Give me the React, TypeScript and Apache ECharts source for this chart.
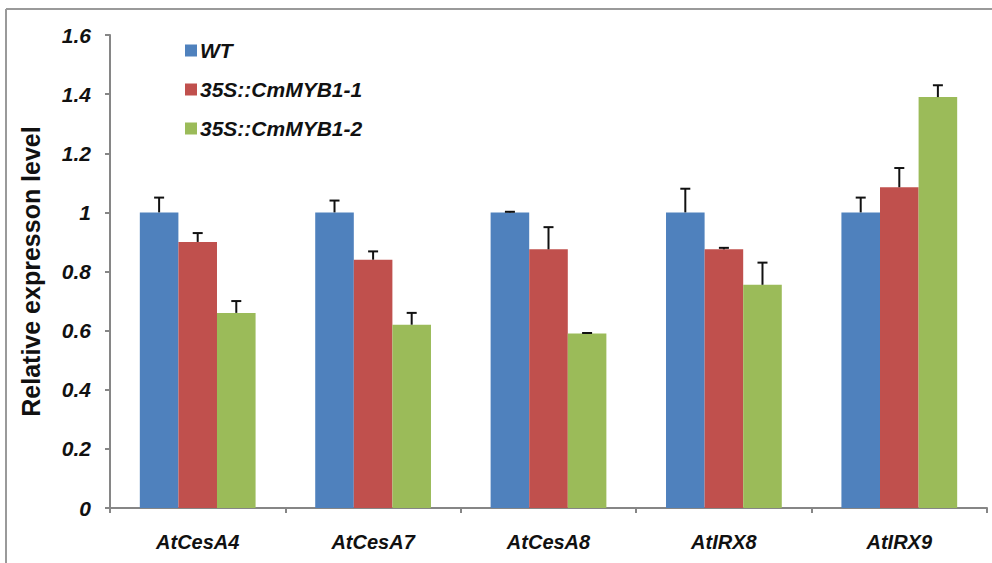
import React, { useEffect, useRef } from "react";
import * as echarts from "echarts";

const categories = ["AtCesA4", "AtCesA7", "AtCesA8", "AtIRX8", "AtIRX9"];
const seriesNames = ["WT", "35S::CmMYB1-1", "35S::CmMYB1-2"];
const wtValues = [1.0, 1.0, 1.0, 1.0, 1.0];
const myb1Values = [0.9, 0.84, 0.875, 0.875, 1.085];
const myb2Values = [0.66, 0.62, 0.59, 0.755, 1.39];
const wtErrors = [0.05, 0.04, 0.002, 0.08, 0.05];
const myb1Errors = [0.03, 0.028, 0.075, 0.005, 0.065];
const myb2Errors = [0.04, 0.04, 0.002, 0.075, 0.04];
const colors = ["#4F81BD", "#C0504D", "#9BBB59"];

const values = [wtValues, myb1Values, myb2Values];
const errors = [wtErrors, myb1Errors, myb2Errors];
const CATEGORY_GAP = 0.34;

export default function App() {
  const ref = useRef<HTMLDivElement>(null);
  useEffect(() => {
    if (!ref.current) return;
    const chart = echarts.init(ref.current, null, { renderer: "svg" });
    const font = "'Liberation Sans', Arial, sans-serif";
    const barSeries = seriesNames.map((name, i) => ({
      name,
      type: "bar",
      data: values[i],
      barGap: "0%",
      barCategoryGap: CATEGORY_GAP * 100 + "%",
      itemStyle: { color: colors[i] },
      z: 2,
    }));
    const errSeries = seriesNames.map((name, i) => ({
      name: name + "-err",
      type: "custom",
      z: 5,
      data: values[i].map((v, j) => [j, v, v + errors[i][j]]),
      renderItem: (params: any, api: any) => {
        const idx = api.value(0);
        const base = api.coord([idx, api.value(1)]);
        const top = api.coord([idx, api.value(2)]);
        const band = api.size([1, 0])[0];
        const bw = (band * (1 - CATEGORY_GAP)) / 3;
        const x = base[0] + (i - 1) * bw;
        const cap = 5;
        return {
          type: "group",
          children: [
            {
              type: "line",
              shape: { x1: x, y1: base[1], x2: x, y2: top[1] },
              style: { stroke: "#111", lineWidth: 2 },
            },
            {
              type: "line",
              shape: { x1: x - cap, y1: top[1], x2: x + cap, y2: top[1] },
              style: { stroke: "#111", lineWidth: 2 },
            },
          ],
        };
      },
    }));
    chart.setOption({
      animation: false,
      backgroundColor: "#fff",
      grid: { left: 110, right: 5, top: 35, bottom: 55 },
      legend: {
        data: seriesNames,
        orient: "vertical",
        left: 180,
        top: 35,
        itemGap: 18,
        itemWidth: 12,
        itemHeight: 12,
        icon: "rect",
        textStyle: {
          fontFamily: font,
          fontSize: 21,
          fontWeight: "bold",
          fontStyle: "italic",
          color: "#111",
          padding: [0, 0, 0, -2],
        },
      },
      xAxis: {
        type: "category",
        data: categories,
        axisLine: { lineStyle: { color: "#868686", width: 2 } },
        axisTick: { show: true, length: 5, lineStyle: { color: "#868686", width: 2 } },
        axisLabel: {
          fontFamily: font,
          fontSize: 20,
          fontWeight: "bold",
          fontStyle: "italic",
          color: "#111",
          margin: 24,
        },
      },
      yAxis: {
        type: "value",
        min: 0,
        max: 1.6,
        interval: 0.2,
        name: "Relative expresson level",
        nameLocation: "middle",
        nameGap: 67,
        nameTextStyle: {
          fontFamily: font,
          fontSize: 25,
          fontWeight: "bold",
          color: "#111",
        },
        splitLine: { show: false },
        axisLine: { show: true, lineStyle: { color: "#868686", width: 2 } },
        axisTick: { show: true, length: 5, lineStyle: { color: "#868686", width: 2 } },
        axisLabel: {
          fontFamily: font,
          fontSize: 21,
          fontWeight: "bold",
          fontStyle: "italic",
          color: "#111",
          margin: 19,
        },
      },
      graphic: [
        {
          type: "line",
          shape: { x1: 6, y1: 9, x2: 992, y2: 9 },
          style: { stroke: "#9a9a9a", lineWidth: 2 },
        },
        {
          type: "line",
          shape: { x1: 6, y1: 9, x2: 6, y2: 563 },
          style: { stroke: "#9a9a9a", lineWidth: 2 },
        },
      ],
      series: [...barSeries, ...errSeries],
    });
    return () => chart.dispose();
  }, []);
  return (
    <div
      ref={ref}
      style={{ position: "fixed", left: 0, top: 0, width: 992, height: 563 }}
    />
  );
}
